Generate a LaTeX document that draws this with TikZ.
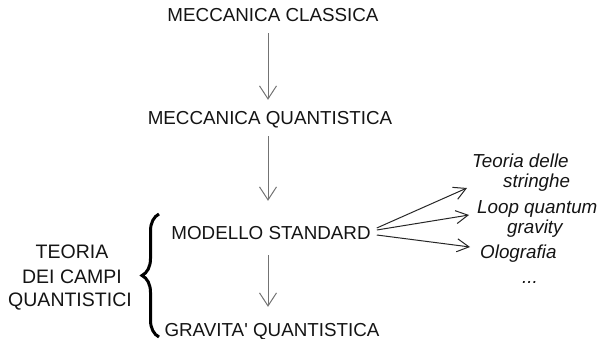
\documentclass[tikz,border=0pt]{standalone}
\usepackage{fontspec}
\setmainfont{Liberation Sans}
\newfontfamily\plainsans{Liberation Sans}
\usetikzlibrary{arrows.meta,decorations.pathreplacing}
\begin{document}
\begin{tikzpicture}[x=1pt,y=1pt,
  txt/.style={font=\plainsans\fontsize{18.8}{22}\selectfont, text=black!92, inner xsep=0pt, inner ysep=11pt, text height=14pt, text depth=0pt, anchor=base},
  lft/.style={font=\plainsans\fontsize{19.5}{22}\selectfont, text=black!92, inner sep=0pt, anchor=base},
  itl/.style={font=\plainsans\fontsize{18.8}{22}\selectfont\itshape, text=black!92, inner sep=0pt, anchor=base west},
  arr/.style={draw=black!55, line width=1pt, -{Straight Barb[length=13pt,width=17pt,line width=1pt]}},
  sarr/.style={draw=black!85, line width=1pt, -{Straight Barb[length=12pt,width=13pt,line width=1pt]}}
]
\useasboundingbox (0,0) rectangle (601,-339);
\coordinate (ax) at (268,0);
\node[txt] (mc) at (273,-22) {MECCANICA CLASSICA};
\node[txt] (mq) at (270,-125) {MECCANICA QUANTISTICA};
\node[txt] (ms) at (271,-239) {MODELLO STANDARD};
\node[txt] (gq) at (272,-336) {GRAVITA' QUANTISTICA};
\node[lft] (l1) at (72,-258) {TEORIA};
\node[lft] (l2) at (72,-283) {DEI CAMPI};
\node[lft] (l3) at (70,-306) {QUANTISTICI};
\node[itl] (r1) at (472,-167) {Teoria delle};
\node[itl] (r2) at (503,-187) {stringhe};
\node[itl] (r3) at (477,-213) {Loop quantum};
\node[itl] (r4) at (507,-233) {gravity};
\node[itl] (r5) at (480,-258) {Olografia};
\node[itl] (r6) at (522,-283) {...};
\coordinate (t1) at (467,-188);
\coordinate (t2) at (469,-215);
\coordinate (t3) at (470,-247);
\draw[arr] (mc.south -| ax) -- (mq.north -| ax);
\draw[arr, shorten >=13pt] (mq.south -| ax) -- (ms.north -| ax);
\draw[arr, shorten <=5pt, shorten >=4pt] (ms.south -| ax) -- (gq.north -| ax);
\draw[sarr] ([xshift=6pt,yshift=4pt]ms.east) -- (t1);
\draw[sarr] ([xshift=6pt,yshift=2pt]ms.east) -- (t2);
\draw[sarr] ([xshift=6pt,yshift=-3pt]ms.east) -- (t3);
\coordinate (bb) at (159,-337);
\coordinate (bt) at (159,-214);
\draw[line width=3pt, black, decorate, decoration={brace, amplitude=17pt}] (bb) -- (bt);
\end{tikzpicture}
\end{document}
